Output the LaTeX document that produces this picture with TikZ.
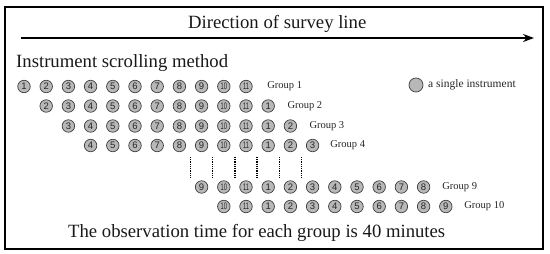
\documentclass[tikz,border=0pt]{standalone}
\usepackage{fontspec}
\setmainfont{Liberation Serif}
\newfontfamily\numfont{Liberation Sans}
\usetikzlibrary{arrows.meta}
\begin{document}
\begin{tikzpicture}[x=1pt,y=-1pt,
 inst/.style={circle, draw=black!75, fill=black!28, line width=0.7pt, minimum size=12.5pt, inner sep=0pt, font=\numfont\fontsize{9.5}{9.5}\selectfont, text=black!85},
 grp/.style={anchor=west, font=\fontsize{10.5}{12}\selectfont, text=black!85, inner sep=0pt},
 big/.style={anchor=base west, font=\fontsize{18.7}{22}\selectfont, inner sep=0pt, text=black!90},
 dotline/.style={dash pattern=on 0.9pt off 0.9pt, line width=1.3pt}
]
\useasboundingbox (0,0) rectangle (550,254);
\draw[line width=1.6pt] (5,7) rectangle (543,249);
\node[big] (title) at (188,29) {Direction of survey line};
\coordinate (a0) at (21,38);
\coordinate (a1) at (534,38);
\draw[line width=1.4pt, -{Stealth[length=11pt,width=8pt]}] (a0) -- (a1);
\node[big] (method) at (16,68) {Instrument scrolling method};
\foreach \g/\yy/\off in {1/86.5/14.5, 2/106/12.5, 3/126/12.3, 4/145.5/11, 9/187/12, 10/206.5/11.7} {
  \foreach \i in {0,...,10} {
    \pgfmathtruncatemacro\v{mod(\g-1+\i,11)+1}
    \pgfmathsetmacro\xx{24+22.2*(\g-1+\i)}
    \node[inst] (c\g-\i) at (\xx,\yy) {\ifnum\v>9 \scalebox{0.6}[1]{\v}\else\v\fi};
  }
  \node[grp, xshift=\off pt] (g\g) at (c\g-10.east) {Group \g};
}
\foreach \k in {8,...,13} {
  \pgfmathsetmacro\xx{24+22.2*(\k-1)+11.1}
  \coordinate (dt\k) at (\xx,157);
  \coordinate (db\k) at (\xx,178);
  \draw[dotline] (dt\k) -- (db\k);
}
\node[inst, minimum size=14pt] (leg) at (416,85) {};
\node[anchor=west, inner sep=0pt, font=\fontsize{11.5}{13}\selectfont, text=black!85] (legt) at (428,85) {a single instrument};
\node[big] (note) at (68,237) {The observation time for each group is 40 minutes};
\end{tikzpicture}
\end{document}
